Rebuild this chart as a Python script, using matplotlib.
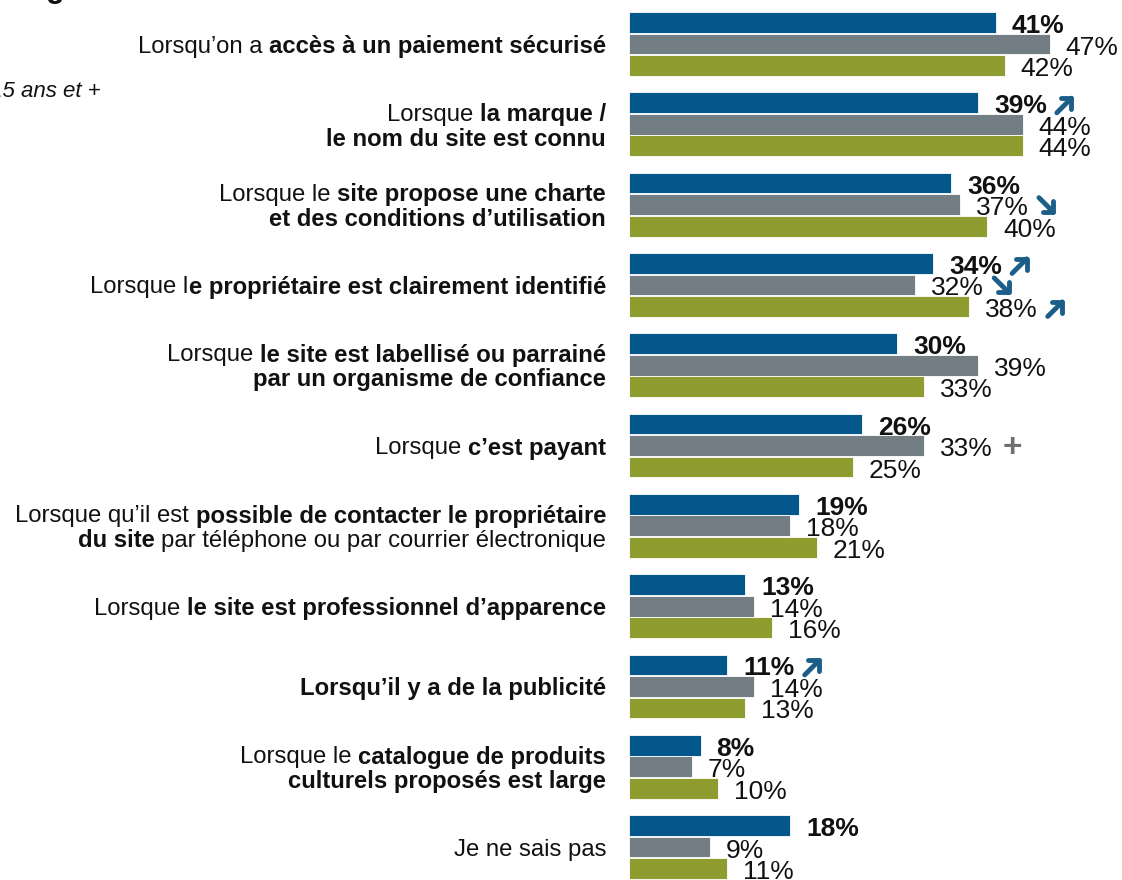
import matplotlib
matplotlib.use("Agg")
import matplotlib.pyplot as plt
from matplotlib.transforms import blended_transform_factory, IdentityTransform, offset_copy
from matplotlib.font_manager import FontProperties

plt.rcParams['font.family'] = ['Liberation Sans', 'DejaVu Sans']

# Category labels, as lines of (text, bold) pieces
labels = [
    [[("Lorsqu’on a", False), ("accès à un paiement sécurisé", True)]],
    [[("Lorsque", False), ("la marque /", True)],
     [("le nom du site est connu", True)]],
    [[("Lorsque le", False), ("site propose une charte", True)],
     [("et des conditions d’utilisation", True)]],
    [[("Lorsque l", False), ("e propriétaire est clairement identifié", True)]],
    [[("Lorsque", False), ("le site est labellisé ou parrainé", True)],
     [("par un organisme de confiance", True)]],
    [[("Lorsque", False), ("c’est payant", True)]],
    [[("Lorsque qu’il est", False), ("possible de contacter le propriétaire", True)],
     [("du site", True), ("par téléphone ou par courrier électronique", False)]],
    [[("Lorsque", False), ("le site est professionnel d’apparence", True)]],
    [[("Lorsqu’il y a de la publicité", True)]],
    [[("Lorsque le", False), ("catalogue de produits", True)],
     [("culturels proposés est large", True)]],
    [[("Je ne sais pas", False)]],
]

blue_vals = [41, 39, 36, 34, 30, 26, 19, 13, 11, 8, 18]
grey_vals = [47, 44, 37, 32, 39, 33, 18, 14, 14, 7, 9]
green_vals = [42, 44, 40, 38, 33, 25, 21, 16, 13, 10, 11]

# significance marks: (category index, series index, mark)
marks = [(1, 0, "up"), (2, 1, "down"), (3, 0, "up"), (3, 1, "down"),
         (3, 2, "up"), (5, 1, "plus"), (8, 0, "up")]

colors = ["#03578A", "#727E84", "#8F9C2F"]
arrow_color = "#1B5E88"
fs = 17.2
fs_val = 19

fig = plt.figure(figsize=(11.22, 8.8), dpi=100)
ax = fig.add_axes([629 / 1122, 0, 1 - 629 / 1122, 1])
ax.set_xlim(0, 55.1)
ax.set_ylim(10.41, -0.548)
ax.axis("off")

series = [blue_vals, grey_vals, green_vals]
pitch = 0.268
value_texts = {}
for s, vals in enumerate(series):
    ys = [i + (s - 1) * pitch for i in range(len(vals))]
    ax.barh(ys, vals, height=0.258, color=colors[s], edgecolor="white", linewidth=0.6)
    tr = offset_copy(ax.transData, fig=fig, x=16, y=-1, units="dots")
    for i, (y, v) in enumerate(zip(ys, vals)):
        t = ax.text(v, y, f"{v}%", transform=tr, ha="left", va="center_baseline",
                    fontsize=fs_val, fontweight="bold" if s == 0 else "normal",
                    color="#111111")
        value_texts[(i, s)] = t

# category labels drawn piece by piece, right aligned
renderer = fig.canvas.get_renderer()


def advance(txt, bold):
    fp = FontProperties(family="Liberation Sans", size=fs,
                        weight="bold" if bold else "normal")
    w1 = renderer.get_text_width_height_descent("|" + txt + "|", fp, ismath=False)[0]
    w0 = renderer.get_text_width_height_descent("||", fp, ismath=False)[0]
    return w1 - w0


space = advance(" ", False)
x_right = 606
line_gap = 24.5
for i, lines in enumerate(labels):
    n = len(lines)
    for k, pieces in enumerate(lines):
        dy = -((k - (n - 1) / 2) * line_gap)
        widths = [advance(p, b) for p, b in pieces]
        gaps = 0
        for j in range(len(pieces) - 1):
            if not pieces[j][0].endswith(" l"):
                gaps += space
        total = sum(widths) + gaps
        x = x_right - total
        trans = offset_copy(blended_transform_factory(IdentityTransform(), ax.transData),
                            fig=fig, x=0, y=dy, units="dots")
        for j, (p, b) in enumerate(pieces):
            ax.text(x, i, p, transform=trans, ha="left", va="center_baseline",
                    fontsize=fs, fontweight="bold" if b else "normal", color="#111111")
            x += widths[j]
            if j < len(pieces) - 1 and not p.endswith(" l"):
                x += space

# cropped leftovers of the original slide
fig.text(101 / 1122, 1 - 89 / 880, "Base : 15 ans et +", ha="right", va="center_baseline",
         fontsize=16, style="italic", color="#111111")
fig.text(46 / 1122, 1 + 3 / 880, "g", ha="left", va="baseline",
         fontsize=22, fontweight="bold", color="#111111")

# significance marks after value labels
fig.canvas.draw()
for i, s, m in marks:
    bb = value_texts[(i, s)].get_window_extent(renderer)
    cy = (bb.y0 + bb.y1) / 2 + 2
    x0 = bb.x1 + 10
    if m == "plus":
        fig.text(x0 / 1122, (cy - 1) / 880, "+", ha="left", va="center",
                 fontsize=24, fontweight="bold", color="#707070")
        continue
    size = 17
    if m == "up":
        tail, head = (x0, cy - size / 2), (x0 + size, cy + size / 2)
    else:
        tail, head = (x0, cy + size / 2), (x0 + size, cy - size / 2)
    ax.annotate("", xy=head, xytext=tail, xycoords="figure pixels",
                textcoords="figure pixels",
                arrowprops=dict(arrowstyle="->,head_length=0.55,head_width=0.55",
                                lw=3.5, color=arrow_color, shrinkA=0, shrinkB=0))

fig.savefig("out.png", dpi=100)
